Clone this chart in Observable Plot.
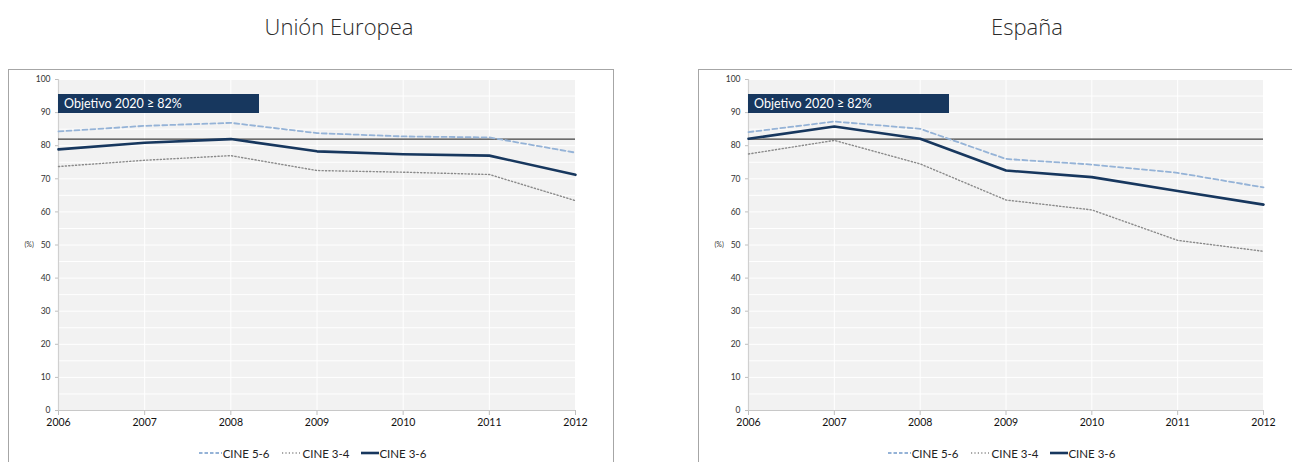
<!DOCTYPE html>
<html>
<head>
<meta charset="utf-8">
<script src="https://cdn.jsdelivr.net/npm/d3@7"></script>
<script src="https://cdn.jsdelivr.net/npm/@observablehq/plot@0.6"></script>
<style>
  html, body { margin: 0; padding: 0; background: #fff; }
  body { width: 1292px; height: 462px; overflow: hidden; position: relative; font-family: Lato, "Open Sans", sans-serif; }
  .title { position: absolute; top: 11px; width: 400px; text-align: center; font-family: "Open Sans", Lato, sans-serif; font-weight: 300; font-size: 22px; color: #2b2b2b; }
  .box { position: absolute; top: 69px; width: 604px; height: 420px; border: 1px solid #a6a6a6; }
  .box svg { position: absolute; left: 0; top: 0; }
  .obj { position: absolute; top: 24px; width: 201px; height: 19px; background: #17375e; color: #fff; font-size: 12.5px; line-height: 19px; padding-left: 6px; box-sizing: border-box; white-space: nowrap; }
  .legend { position: absolute; top: 376px; height: 14px; display: flex; justify-content: center; align-items: center; font-size: 11.5px; color: #222; white-space: nowrap; }
  .legend .item { display: flex; align-items: center; }
  .legend svg { position: static; }
</style>
</head>
<body>
<script>
// ---- data ----
const years = [2006, 2007, 2008, 2009, 2010, 2011, 2012];
const seriesNames = ["CINE 5-6", "CINE 3-4", "CINE 3-6"];
const panelTitles = ["Unión Europea", "España"];
const ueCine56 = [84.3, 86.0, 86.9, 83.8, 82.8, 82.5, 77.9];
const ueCine34 = [73.7, 75.6, 77.0, 72.5, 72.0, 71.3, 63.4];
const ueCine36 = [78.9, 80.9, 82.0, 78.3, 77.4, 77.0, 71.2];
const esCine56 = [84.1, 87.3, 85.1, 76.0, 74.3, 71.8, 67.4];
const esCine34 = [77.5, 81.6, 74.5, 63.6, 60.6, 51.4, 48.1];
const esCine36 = [82.1, 85.8, 82.1, 72.5, 70.5, 66.3, 62.2];
const target = 82;
const targetLabel = "Objetivo 2020 ≥ 82%";
const yTicks = [0, 10, 20, 30, 40, 50, 60, 70, 80, 90, 100];
const yGrid = [0, 5, 10, 15, 20, 25, 30, 35, 40, 45, 50, 55, 60, 65, 70, 75, 80, 85, 90, 95, 100];
const yUnit = "(%)";

// ---- styles ----
const seriesStyle = {
  "CINE 5-6": {stroke: "#95b3d7", strokeWidth: 1.8, strokeDasharray: "5,3"},
  "CINE 3-4": {stroke: "#8a8a8a", strokeWidth: 1.4, strokeDasharray: "1.2,2.2"},
  "CINE 3-6": {stroke: "#17375e", strokeWidth: 2.6, strokeDasharray: null}
};
const drawOrder = ["CINE 3-4", "CINE 5-6", "CINE 3-6"];

function table(v56, v34, v36) {
  const rows = [];
  const vals = {"CINE 5-6": v56, "CINE 3-4": v34, "CINE 3-6": v36};
  for (const s of seriesNames) years.forEach((y, i) => rows.push({year: y, value: vals[s][i], series: s}));
  return rows;
}

const panels = [
  {title: panelTitles[0], data: table(ueCine56, ueCine34, ueCine36), left: 8, marginRight: 38, titleCenter: 339, legendShift: -4},
  {title: panelTitles[1], data: table(esCine56, esCine34, esCine36), left: 698, marginRight: 40, titleCenter: 1027, legendShift: -4}
];

for (const p of panels) {
  const t = document.createElement("div");
  t.className = "title";
  t.style.left = (p.titleCenter - 200) + "px";
  t.textContent = p.title;
  document.body.appendChild(t);

  const box = document.createElement("div");
  box.className = "box";
  box.style.left = p.left + "px";
  document.body.appendChild(box);

  const marginLeft = 49;
  const W = 604;
  const chart = Plot.plot({
    width: W, height: 365,
    marginLeft, marginRight: p.marginRight, marginTop: 9, marginBottom: 25,
    x: {domain: [years[0], years[years.length - 1]]},
    y: {domain: [0, 100]},
    style: {fontFamily: "Lato, 'Open Sans', sans-serif", background: "transparent", overflow: "visible"},
    marks: [
      Plot.frame({fill: "#f2f2f2", stroke: null}),
      Plot.gridY(yGrid, {stroke: "#ffffff", strokeOpacity: 1, strokeWidth: 1}),
      Plot.gridX(years, {stroke: "#ffffff", strokeOpacity: 1, strokeWidth: 1}),
      Plot.axisY({ticks: yTicks, tickSize: 3, tickPadding: 5, fontSize: 8.5, stroke: "#bfbfbf", fill: "#333", label: null}),
      Plot.axisX({ticks: years, tickFormat: d => String(d), tickSize: 5, tickPadding: 3, fontSize: 10.5, stroke: "#bfbfbf", fill: "#111", label: null}),
      Plot.ruleX([years[0]], {stroke: "#d0d0d0", strokeWidth: 1.2}),
      Plot.ruleY([0], {stroke: "#c8c8c8", strokeWidth: 1}),
      Plot.text([yUnit], {frameAnchor: "left", dx: -34, fontSize: 7, fill: "#333"}),
      Plot.ruleY([target], {stroke: "#404040", strokeWidth: 1.3}),
      ...drawOrder.map(s => Plot.line(p.data.filter(d => d.series === s), {
        x: "year", y: "value",
        stroke: seriesStyle[s].stroke,
        strokeWidth: seriesStyle[s].strokeWidth,
        strokeDasharray: seriesStyle[s].strokeDasharray
      }))
    ]
  });
  box.appendChild(chart);

  const obj = document.createElement("div");
  obj.className = "obj";
  obj.style.left = marginLeft + "px";
  obj.textContent = targetLabel;
  box.appendChild(obj);

  const plotW = W - marginLeft - p.marginRight;
  const leg = document.createElement("div");
  leg.className = "legend";
  leg.style.left = (marginLeft + p.legendShift) + "px";
  leg.style.width = plotW + "px";
  const sampleW = {"CINE 5-6": 23, "CINE 3-4": 18, "CINE 3-6": 18};
  const gapAfterSample = {"CINE 5-6": 1, "CINE 3-4": 3, "CINE 3-6": 0};
  seriesNames.forEach((s, i) => {
    const it = document.createElement("span");
    it.className = "item";
    if (i > 0) it.style.marginLeft = "12px";
    const st = seriesStyle[s];
    const w = sampleW[s];
    it.innerHTML = `<svg width="${w}" height="6"><line x1="0" x2="${w}" y1="3" y2="3" stroke="${st.stroke}" stroke-width="${st.strokeWidth}" ${st.strokeDasharray ? `stroke-dasharray="${s === "CINE 5-6" ? "3.5,2" : st.strokeDasharray}"` : ""}/></svg><span style="margin-left:${gapAfterSample[s]}px">${s}</span>`;
    leg.appendChild(it);
  });
  box.appendChild(leg);
}
</script>
</body>
</html>
